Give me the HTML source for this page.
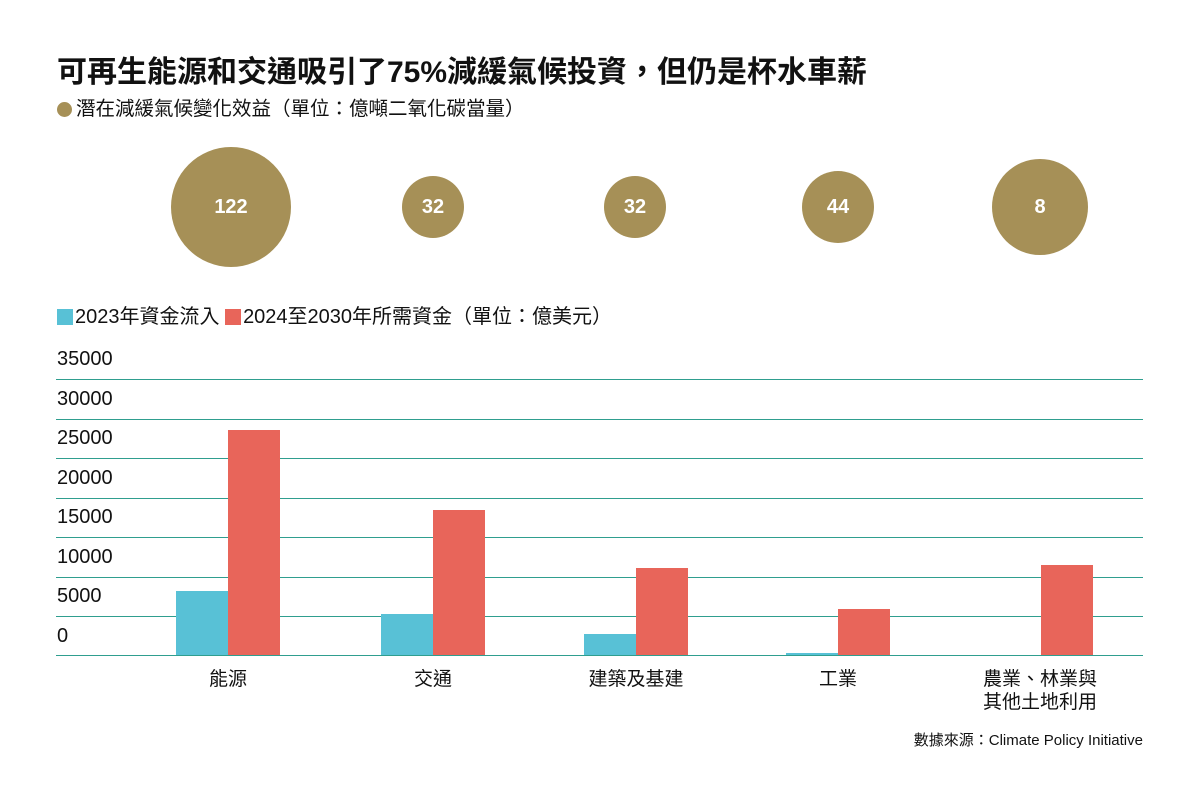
<!DOCTYPE html>
<html><head><meta charset="utf-8"><style>
body{margin:0;background:#fff;width:1200px;height:800px;overflow:hidden;position:relative;font-family:"Liberation Sans","Noto Sans CJK TC",sans-serif;color:#111}
.a{position:absolute;white-space:nowrap}
.c{position:absolute;border-radius:50%;background:#a69057;color:#fff;font-weight:bold;font-size:20px;display:flex;align-items:center;justify-content:center}
.g{position:absolute;left:56px;width:1087px;height:1px;background:#2f9e8f}
.b{position:absolute}
.t{background:#58c1d6}.r{background:#e8655a}
.y{position:absolute;left:57px;font-size:20px}
.x{position:absolute;font-size:19px;text-align:center;width:200px;line-height:23px}
</style></head><body>
<div class="a" style="left:57px;top:47px;font-size:30px;font-weight:bold">可再生能源和交通吸引了75%減緩氣候投資，但仍是杯水車薪</div>
<div class="a" style="left:57px;top:92px;font-size:19.5px"><span style="display:inline-block;width:15px;height:15px;border-radius:50%;background:#a69057;vertical-align:-2px;margin-right:4px"></span>潛在減緩氣候變化效益（單位：億噸二氧化碳當量）</div>
<div class="c" style="left:171px;top:147px;width:120px;height:120px">122</div>
<div class="c" style="left:402px;top:176px;width:62px;height:62px">32</div>
<div class="c" style="left:604px;top:176px;width:62px;height:62px">32</div>
<div class="c" style="left:802px;top:171px;width:72px;height:72px">44</div>
<div class="c" style="left:992px;top:159px;width:96px;height:96px">8</div>
<div class="a" style="left:57px;top:300px;font-size:20px"><span style="display:inline-block;width:16px;height:16px;background:#58c1d6;vertical-align:-2px;margin-right:2px"></span>2023年資金流入 <span style="display:inline-block;width:16px;height:16px;background:#e8655a;vertical-align:-2px;margin-right:2px"></span>2024至2030年所需資金（單位：億美元）</div>
<div class="g" style="top:379px"></div><div class="g" style="top:419px"></div><div class="g" style="top:458px"></div><div class="g" style="top:498px"></div><div class="g" style="top:537px"></div><div class="g" style="top:577px"></div><div class="g" style="top:616px"></div><div class="g" style="top:655px"></div>
<div class="y" style="top:348px">35000</div><div class="y" style="top:388px">30000</div><div class="y" style="top:427px">25000</div><div class="y" style="top:467px">20000</div><div class="y" style="top:506px">15000</div><div class="y" style="top:546px">10000</div><div class="y" style="top:585px">5000</div><div class="y" style="top:625px">0</div>
<div class="b t" style="left:176px;top:591px;width:52px;height:64px"></div>
<div class="b r" style="left:228px;top:430px;width:52px;height:225px"></div>
<div class="b t" style="left:381px;top:614px;width:52px;height:41px"></div>
<div class="b r" style="left:433px;top:510px;width:52px;height:145px"></div>
<div class="b t" style="left:584px;top:634px;width:52px;height:21px"></div>
<div class="b r" style="left:636px;top:568px;width:52px;height:87px"></div>
<div class="b t" style="left:786px;top:653px;width:52px;height:2px"></div>
<div class="b r" style="left:838px;top:609px;width:52px;height:46px"></div>
<div class="b r" style="left:1041px;top:565px;width:52px;height:90px"></div>
<div class="x" style="left:128px;top:668px">能源</div>
<div class="x" style="left:333px;top:668px">交通</div>
<div class="x" style="left:536px;top:668px">建築及基建</div>
<div class="x" style="left:738px;top:668px">工業</div>
<div class="x" style="left:940px;top:668px">農業、林業與<br>其他土地利用</div>
<div class="a" style="right:57px;top:729px;font-size:15px">數據來源：Climate Policy Initiative</div>
</body></html>
